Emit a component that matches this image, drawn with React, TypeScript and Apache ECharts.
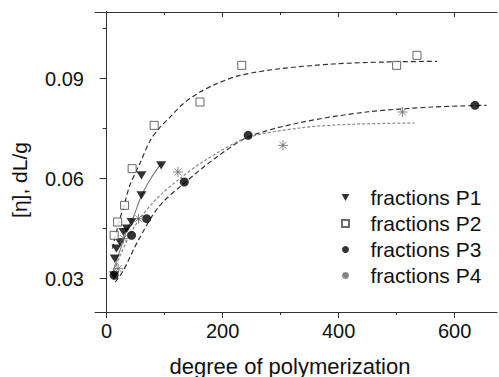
import React, { useEffect, useRef } from "react";
import * as echarts from "echarts";

// Measured data points (degree of polymerization, [η] dL/g)
const fractionsP1: number[][] = [
  [13, 0.031], [14, 0.036], [17, 0.039], [23, 0.041], [29, 0.044], [35, 0.045],
  [43, 0.047], [60, 0.055], [60, 0.061], [94, 0.064],
];
const fractionsP2: number[][] = [
  [13, 0.043], [19, 0.047], [31, 0.052], [44, 0.063], [82, 0.076],
  [161, 0.083], [233, 0.094], [500, 0.094], [535, 0.097],
];
const fractionsP3: number[][] = [
  [13, 0.031], [43, 0.043], [69, 0.048], [134, 0.059], [244, 0.073], [635, 0.082],
];
const fractionsP4: number[][] = [
  [20, 0.033], [29, 0.042], [55, 0.048], [123, 0.062], [304, 0.070], [510, 0.080],
];

// Fitted curves
const fitP1: number[][] = [
  [11, 0.032], [17, 0.0353], [26, 0.040], [34.5, 0.0444], [46, 0.0484], [60, 0.0549],
  [76, 0.060], [94, 0.0645],
];
const fitP2: number[][] = [
  [10, 0.039], [14, 0.042], [23, 0.048], [31, 0.0525], [40, 0.058], [57, 0.0644],
  [75, 0.0714], [92, 0.0754], [109, 0.0784], [132, 0.0825], [161, 0.086],
  [190, 0.0885], [230, 0.091], [300, 0.093], [390, 0.0944], [480, 0.095], [570, 0.0952],
];
const fitP3: number[][] = [
  [15, 0.029], [29, 0.0325], [54, 0.0413], [89, 0.0514], [132, 0.0584], [190, 0.0665],
  [244, 0.0725], [333, 0.0768], [448, 0.080], [563, 0.0815], [655, 0.082],
];
const fitP4: number[][] = [
  [11, 0.031], [23, 0.0368], [49, 0.0459], [83, 0.0534], [126, 0.060], [170, 0.0655],
  [241, 0.0722], [333, 0.0752], [419, 0.0763], [531, 0.0767],
];

const xMajorTicks = [0, 200, 400, 600];
const xMinorTicks = [100, 300, 500];
const yMajorTicks = [0.03, 0.06, 0.09];
const yMinorTicks = [0.045, 0.075, 0.105];

const FONT = "'Liberation Sans', Arial, sans-serif";
const TRI_DOWN = "path://M0,0 L10,0 L5,9 Z";
const SQUARE = "path://M0,0 L10,0 L10,10 L0,10 Z";
const ASTER = "path://M5,0 L5,10 M0,5 L10,5 M1.5,1.5 L8.5,8.5 M8.5,1.5 L1.5,8.5";

export default function App() {
  const ref = useRef<HTMLDivElement>(null);
  useEffect(() => {
    if (!ref.current) return;
    const chart = echarts.init(ref.current, undefined, { renderer: "svg" });
    const xBase = { type: "value", min: -20, max: 673, splitLine: { show: false } };
    const yBase = { type: "value", min: 0.02, max: 0.11, splitLine: { show: false } };
    const axLine = { show: true, lineStyle: { color: "#333", width: 1 } };
    const noLine = { show: false };
    const tickStyle = { color: "#333", width: 1 };
    const fitBase = { type: "line", smooth: 0.3, symbol: "none", z: 1, silent: true };
    chart.setOption({
      animation: false,
      grid: { left: 95, right: 2, top: 12, bottom: 65 },
      xAxis: [
        {
          ...xBase, position: "bottom", axisLine: axLine,
          axisTick: { customValues: xMajorTicks, length: 6, lineStyle: tickStyle },
          axisLabel: {
            customValues: xMajorTicks, fontSize: 20, fontFamily: FONT, color: "#111", margin: 9,
          },
        },
        {
          ...xBase, position: "bottom", axisLine: noLine,
          axisTick: { customValues: xMinorTicks, length: 3, lineStyle: tickStyle },
          axisLabel: { show: false },
        },
        {
          ...xBase, position: "top", axisLine: axLine,
          axisTick: { customValues: xMajorTicks, inside: true, length: 5, lineStyle: tickStyle },
          axisLabel: { show: false },
        },
        {
          ...xBase, position: "top", axisLine: noLine,
          axisTick: { customValues: xMinorTicks, inside: true, length: 3, lineStyle: tickStyle },
          axisLabel: { show: false },
        },
      ],
      yAxis: [
        {
          ...yBase, position: "left", axisLine: axLine,
          axisTick: { customValues: yMajorTicks, length: 7, lineStyle: tickStyle },
          axisLabel: {
            customValues: yMajorTicks, fontSize: 20, fontFamily: FONT, color: "#111", margin: 11,
            formatter: (v: number) => v.toFixed(2),
          },
        },
        {
          ...yBase, position: "left", axisLine: noLine,
          axisTick: { customValues: yMinorTicks, length: 4, lineStyle: tickStyle },
          axisLabel: { show: false },
        },
        {
          ...yBase, position: "right", axisLine: axLine,
          axisTick: { customValues: yMajorTicks, inside: true, length: 6, lineStyle: tickStyle },
          axisLabel: { show: false },
        },
        {
          ...yBase, position: "right", axisLine: noLine,
          axisTick: { customValues: yMinorTicks, inside: true, length: 3, lineStyle: tickStyle },
          axisLabel: { show: false },
        },
      ],
      legend: {
        data: ["fractions P1", "fractions P2", "fractions P3", "fractions P4"],
        orient: "vertical",
        left: 341,
        top: 187,
        padding: 0,
        itemWidth: 40,
        itemHeight: 7,
        itemGap: 5,
        textStyle: { fontSize: 21, fontFamily: FONT, color: "#111", lineHeight: 21 },
      },
      graphic: [
        {
          type: "text", x: 19, y: 180, rotation: Math.PI / 2,
          style: {
            text: "[η], dL/g", fontSize: 21, fontFamily: FONT, fill: "#111",
            align: "center", verticalAlign: "middle",
          },
        },
        {
          type: "text", x: 290, y: 366,
          style: {
            text: "degree of polymerization", fontSize: 22, fontFamily: FONT, fill: "#111",
            align: "center", verticalAlign: "middle",
          },
        },
      ],
      series: [
        { ...fitBase, name: "fit P1", data: fitP1, lineStyle: { color: "#777", width: 1.1 } },
        {
          ...fitBase, name: "fit P2", data: fitP2,
          lineStyle: { color: "#333", width: 1.2, type: [5, 3] },
        },
        {
          ...fitBase, name: "fit P3", data: fitP3,
          lineStyle: { color: "#333", width: 1.2, type: [5, 3] },
        },
        {
          ...fitBase, name: "fit P4", data: fitP4,
          lineStyle: { color: "#888", width: 1.2, type: [3, 2] },
        },
        {
          name: "fractions P1", type: "scatter", data: fractionsP1, symbol: TRI_DOWN,
          symbolSize: [10, 9], symbolKeepAspect: true, z: 3, itemStyle: { color: "#000" },
        },
        {
          name: "fractions P2", type: "scatter", data: fractionsP2, symbol: SQUARE,
          symbolSize: 8, symbolKeepAspect: true, z: 3,
          itemStyle: { color: "#fff", borderColor: "#444", borderWidth: 1 },
        },
        {
          name: "fractions P3", type: "scatter", data: fractionsP3, symbol: "circle",
          symbolSize: 9, symbolKeepAspect: true, z: 3, itemStyle: { color: "#000" },
        },
        {
          name: "fractions P4", type: "scatter", data: fractionsP4, symbol: ASTER,
          symbolSize: 10, symbolKeepAspect: true, z: 3,
          itemStyle: { color: "#666", borderColor: "#666", borderWidth: 1 },
        },
      ],
    });
    return () => chart.dispose();
  }, []);
  return (
    <div
      ref={ref}
      style={{ position: "fixed", left: 0, top: 0, width: 499, height: 377, background: "#fff" }}
    />
  );
}
